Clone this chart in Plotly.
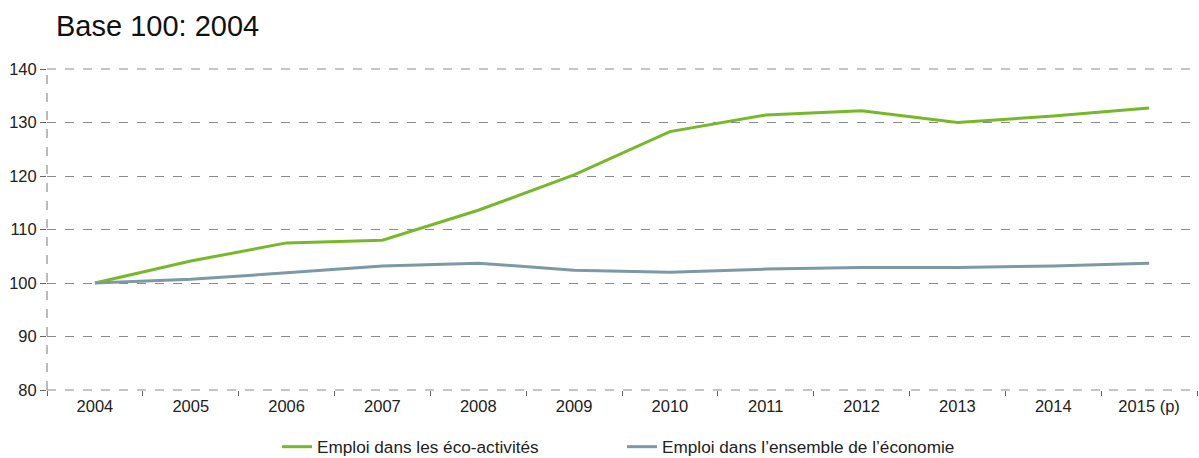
import plotly.graph_objects as go

years = ["2004", "2005", "2006", "2007", "2008", "2009", "2010", "2011", "2012", "2013", "2014", "2015 (p)"]
eco_activites = [100.0, 104.1, 107.5, 108.0, 113.6, 120.2, 128.3, 131.4, 132.2, 130.0, 131.2, 132.7]
ensemble_economie = [100.0, 100.7, 101.9, 103.2, 103.7, 102.4, 102.0, 102.6, 102.9, 102.9, 103.2, 103.7]

FONT = "Liberation Sans, Arial, Helvetica, sans-serif"

fig = go.Figure()
fig.add_trace(go.Scatter(
    x=years, y=eco_activites, mode="lines",
    name="Emploi dans les éco-activités",
    line=dict(color="#76b82a", width=3),
))
fig.add_trace(go.Scatter(
    x=years, y=ensemble_economie, mode="lines",
    name="Emploi dans l’ensemble de l’économie",
    line=dict(color="#7c99a6", width=3),
))

fig.update_layout(
    width=1199, height=458,
    margin=dict(l=47, r=2, t=69, b=68, autoexpand=False),
    paper_bgcolor="white", plot_bgcolor="white",
    font=dict(family=FONT, color="#1a1a1a"),
    showlegend=True,
    legend=dict(
        orientation="h", x=0.5, xanchor="center",
        yref="container", y=1 - 447 / 458, yanchor="middle",
        font=dict(size=17.2, color="#222"), entrywidth=300, entrywidthmode="pixels",
        itemwidth=30,
    ),
    annotations=[dict(
        text="Base 100: 2004", xref="paper", yref="paper",
        x=(54 - 47) / 1150, xanchor="left", y=1 + (69 - 26) / 321, yanchor="middle",
        showarrow=False, font=dict(size=29, color="#111", family=FONT),
    )],
)

fig.update_xaxes(
    type="category", tickson="boundaries", ticks="outside", ticklen=5,
    tickcolor="#666", tickfont=dict(size=16.5, color="#222"),
    ticklabelstandoff=4,
    showgrid=False, showline=False, zeroline=False,
    range=[-0.5, 11.5],
)
fig.update_yaxes(
    range=[80, 140], dtick=10, tick0=80,
    showgrid=True, gridcolor="#8a8a8a", griddash="dash", gridwidth=1,
    ticks="outside", ticklen=6, tickcolor="#666",
    tickfont=dict(size=16.5, color="#222"),
    zeroline=False, showline=False,
)
fig.add_shape(type="line", xref="paper", yref="paper", x0=0, x1=0, y0=0, y1=1,
              line=dict(color="#777", width=1, dash="dash"))
fig.add_shape(type="line", xref="paper", yref="paper", x0=0, x1=1, y0=0, y1=0,
              line=dict(color="#8a8a8a", width=1, dash="dash"))
fig.add_shape(type="line", xref="paper", yref="paper", x0=0, x1=1, y0=1, y1=1,
              line=dict(color="#8a8a8a", width=1, dash="dash"))

fig.write_html("out.html")
